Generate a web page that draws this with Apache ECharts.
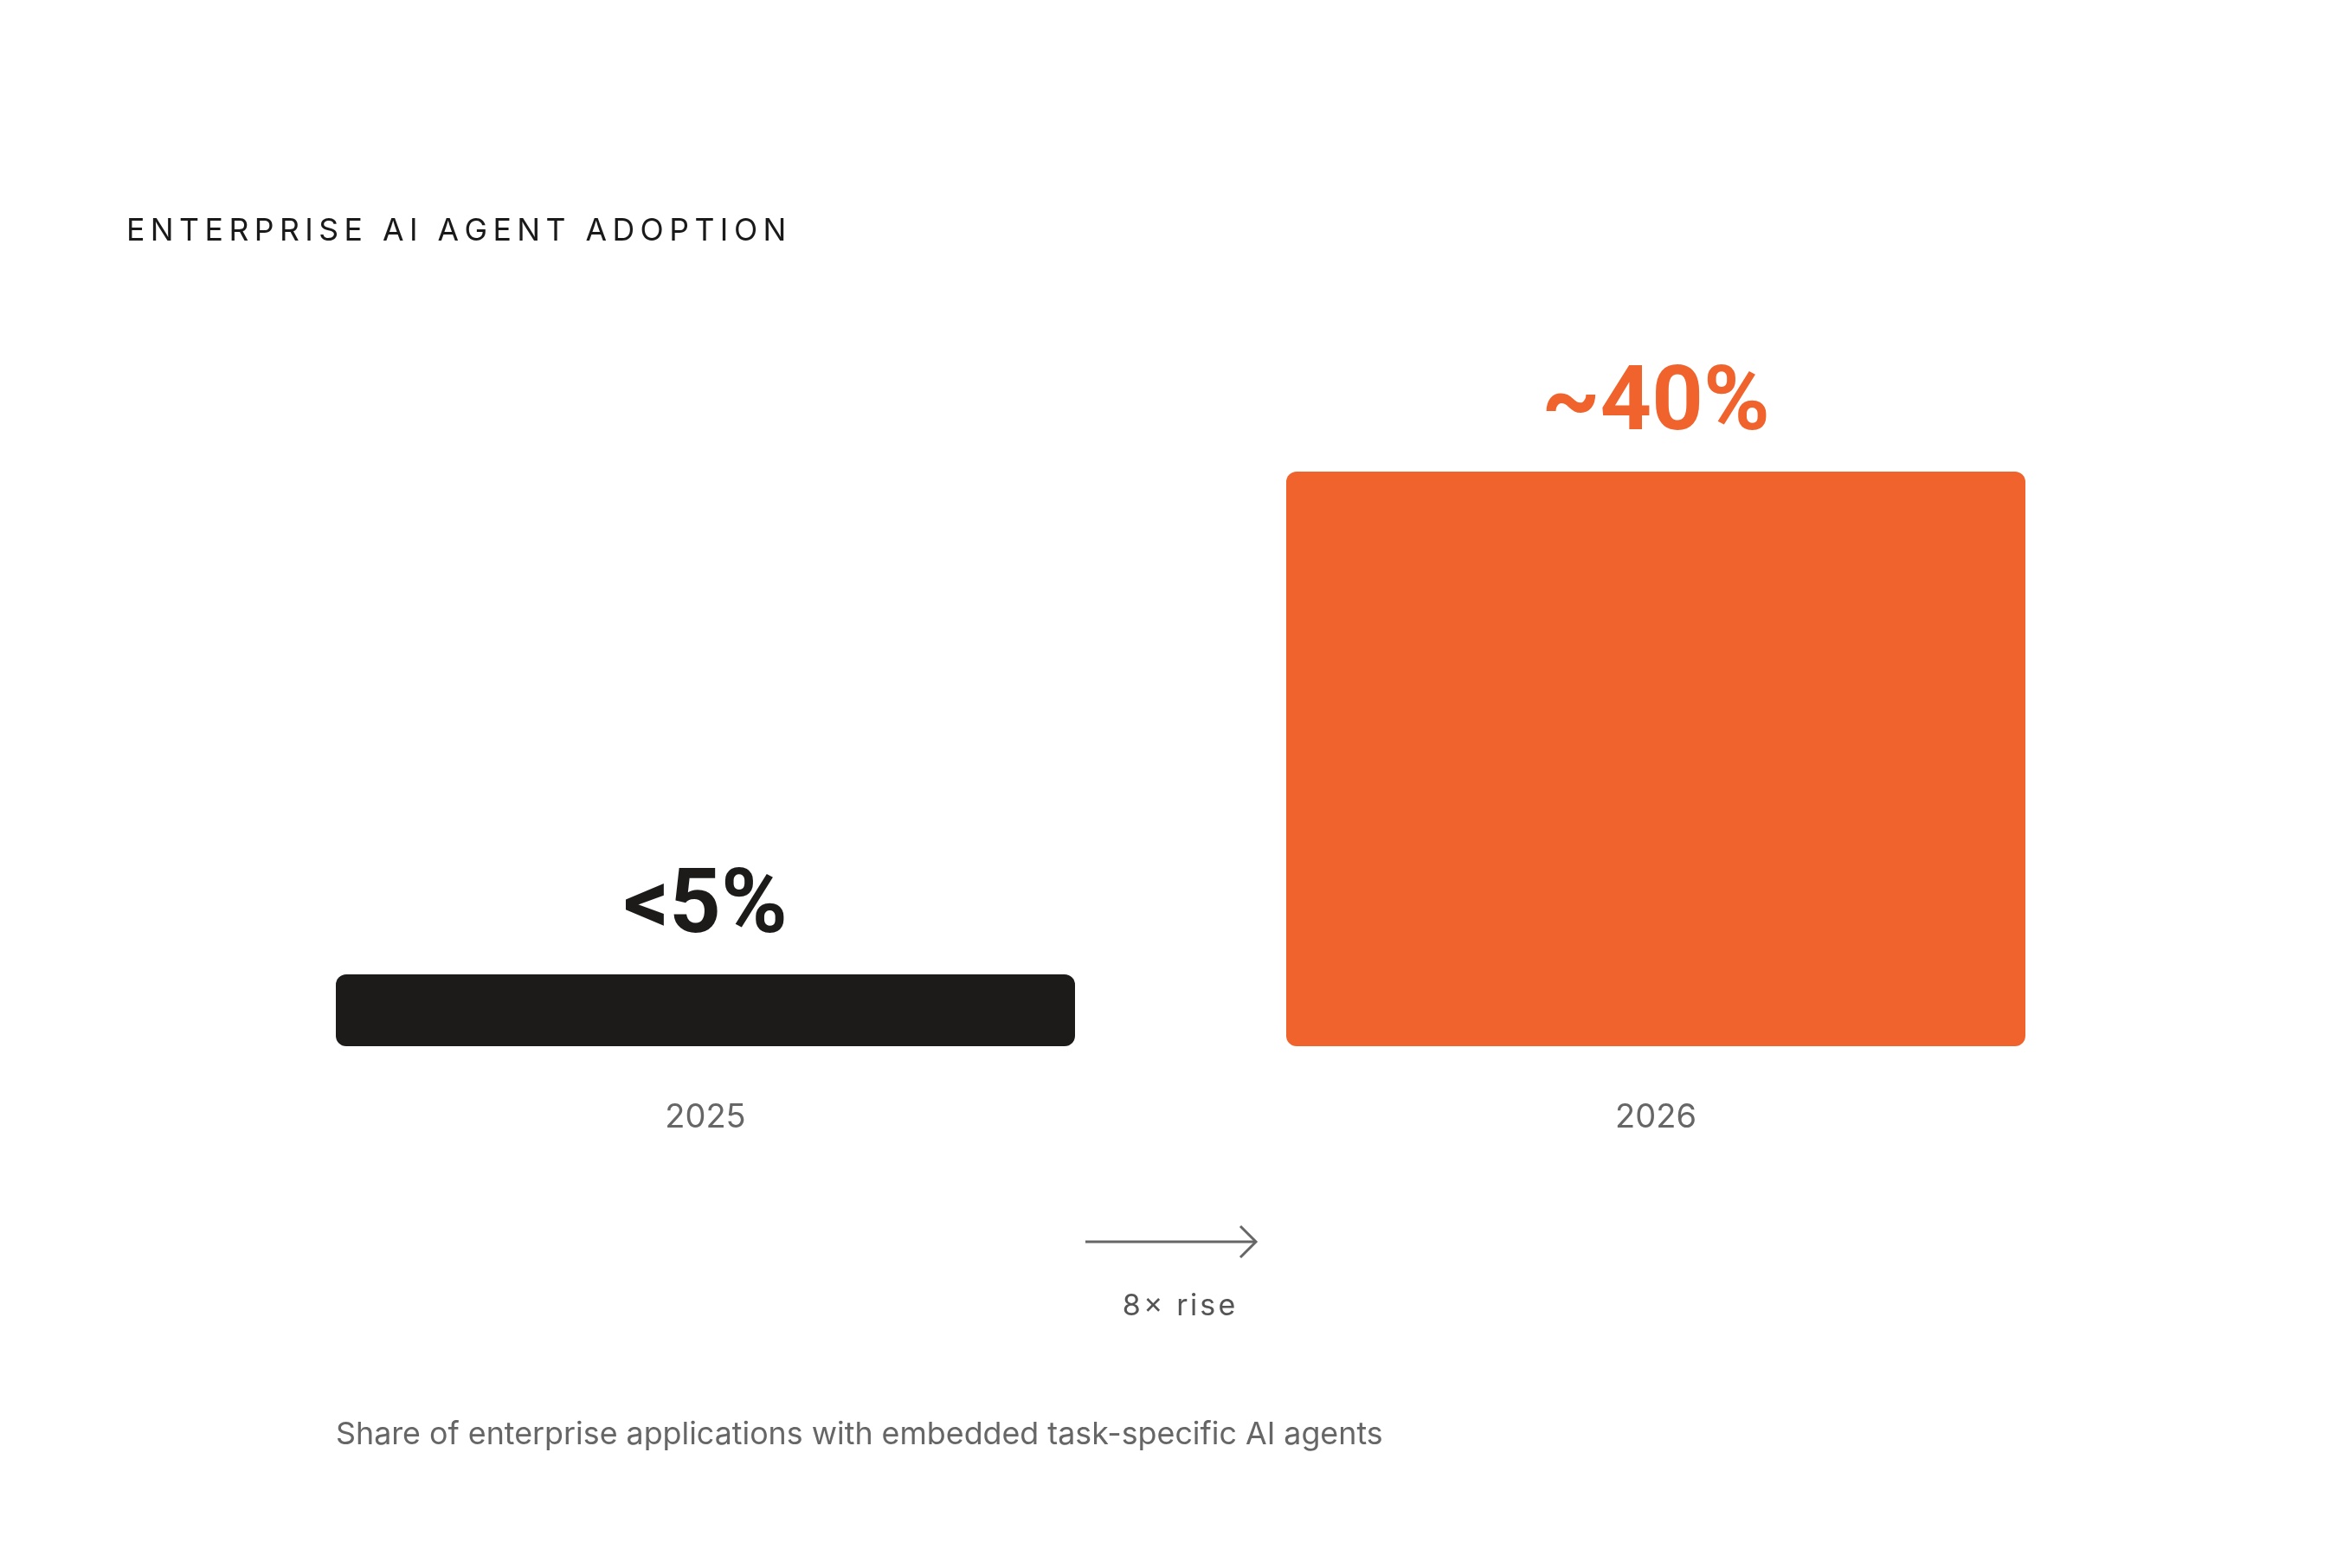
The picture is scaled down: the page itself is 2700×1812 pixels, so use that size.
<!DOCTYPE html>
<html>
<head>
<meta charset="utf-8">
<script src="https://cdn.jsdelivr.net/npm/echarts@6/dist/echarts.min.js"></script>
<style>
  html, body { margin: 0; padding: 0; background: #ffffff; }
  #chart { width: 2700px; height: 1812px; }
</style>
</head>
<body>
<div id="chart"></div>
<script>
const years = ["2025", "2026"];
const shares = [5, 40];
const shareLabels = ["<5%", "~40%"];
const barColors = ["#1c1b1a", "#f0632c"];
const titleText = "ENTERPRISE AI AGENT ADOPTION";
const riseText = "8× rise";
const noteText = "Share of enterprise applications with embedded task-specific AI agents";

const font = "Inter, 'DejaVu Sans', sans-serif";
const bigFont = "Roboto, Inter, sans-serif";

// no letterSpacing in zrender, so pad with thin spaces
function spaced(s, gap) {
  return s.split("").join(gap);
}

const options = {
  backgroundColor: "#ffffff",
  animation: false,
  title: {
    text: spaced(titleText, "\u2009"),
    left: 141,
    top: 244,
    textStyle: { fontFamily: font, fontSize: 35.6, fontWeight: 400, color: "#1a1a1a" },
  },
  grid: { left: 266, right: 238, top: 545, bottom: 603 },
  xAxis: {
    type: "category",
    data: years,
    axisLine: { show: false },
    axisTick: { show: false },
    axisLabel: { margin: 64, fontFamily: font, fontSize: 38, color: "#666666" },
  },
  yAxis: { type: "value", min: 0, max: 40, show: false },
  series: [
    {
      type: "bar",
      barWidth: 854,
      itemStyle: { borderRadius: 12 },
      label: {
        show: true,
        position: "top",
        distance: 23,
        fontFamily: bigFont,
        fontSize: 104,
        fontWeight: 700,
        formatter: (p) => shareLabels[p.dataIndex],
      },
      data: shares.map((v, i) => ({
        value: v,
        itemStyle: { color: barColors[i] },
        label: { color: barColors[i] },
      })),
    },
  ],
  graphic: [
    {
      type: "line",
      shape: { x1: 1254, y1: 1435, x2: 1451, y2: 1435 },
      style: { stroke: "#666666", lineWidth: 3 },
    },
    {
      type: "polyline",
      shape: { points: [[1433, 1417], [1451, 1435], [1433, 1453]] },
      style: { stroke: "#666666", lineWidth: 3, fill: null },
    },
    {
      type: "text",
      x: 1362,
      y: 1510,
      style: {
        text: spaced(riseText, "\u200A"),
        align: "center",
        verticalAlign: "middle",
        fontFamily: font,
        fontSize: 34,
        fill: "#555555",
      },
    },
    {
      type: "text",
      x: 388,
      y: 1658,
      style: {
        text: noteText,
        align: "left",
        verticalAlign: "middle",
        fontFamily: font,
        fontSize: 35.8,
        fill: "#666666",
      },
    },
  ],
};

document.addEventListener("DOMContentLoaded", function () {
  const chart = echarts.init(document.getElementById("chart"));
  chart.setOption(options);
});
</script>
</body>
</html>
